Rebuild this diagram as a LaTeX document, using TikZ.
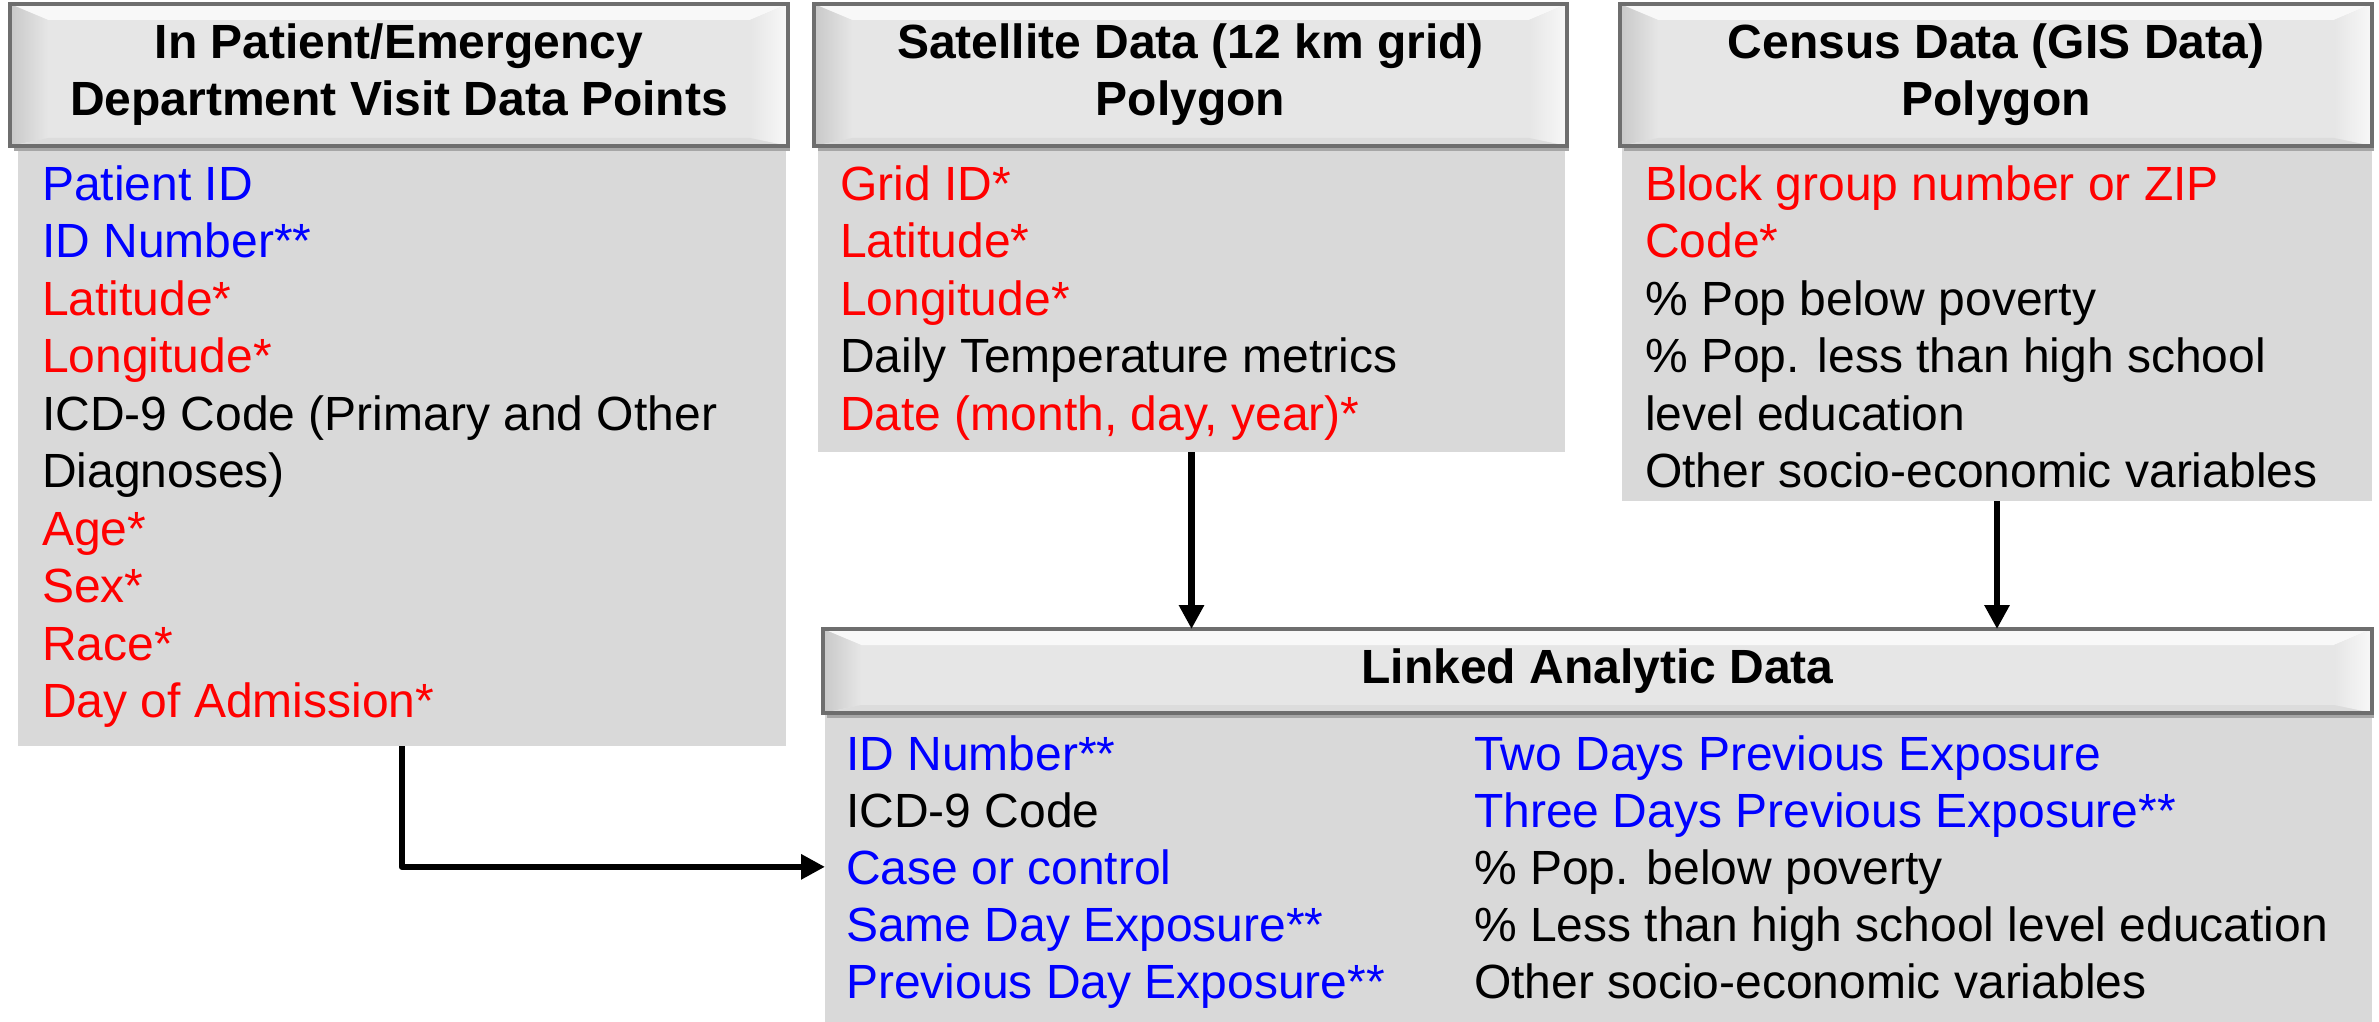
\documentclass[tikz,border=0pt]{standalone}
\usepackage{fontspec}
\setmainfont{Liberation Sans}
\usetikzlibrary{arrows.meta}
\definecolor{bodygray}{HTML}{D9D9D9}
\definecolor{hdrfill}{HTML}{E6E6E6}
\definecolor{hdrtop}{HTML}{F8F8F8}
\definecolor{hdrside}{HTML}{C8C8C8}
\definecolor{hdrbot}{HTML}{DCDCDC}
\definecolor{hdrborder}{HTML}{6E6E6E}
\definecolor{tblue}{HTML}{0000FF}
\definecolor{tred}{HTML}{FF0000}
\tikzset{
  hdr/.style={draw=hdrborder, line width=4pt, inner sep=0pt, outer sep=0pt, align=center,
              font=\fontsize{48}{57}\selectfont\bfseries},
  bodybox/.style={fill=bodygray, inner sep=0pt, outer sep=0pt},
  item/.style={anchor=base west, inner sep=0pt, font=\fontsize{48}{57.5}\selectfont},
  tb/.style={text=tblue}, tr/.style={text=tred}, tk/.style={text=black},
  conn/.style={line width=6.5pt, line join=round, -{Triangle[length=24pt,width=24pt]}},
}
\newcommand\hdrbox[6]{%
  \fill[black!35] (#2+4,#5) rectangle (#4+2,#5+5);
  \fill[hdrfill] (#2,#3) rectangle (#4,#5);
  \fill[hdrtop] (#2,#3) -- (#4,#3) -- (#4-38,#3+16) -- (#2+38,#3+16) -- cycle;
  \shade[left color=hdrside, right color=hdrfill] (#2,#3) -- (#2+38,#3+16) -- (#2+38,#5-8) -- (#2,#5) -- cycle;
  \shade[left color=hdrfill, right color=hdrtop] (#4,#3) -- (#4-38,#3+16) -- (#4-38,#5-8) -- (#4,#5) -- cycle;
  \fill[hdrbot] (#2,#5) -- (#2+38,#5-8) -- (#4-38,#5-8) -- (#4,#5) -- cycle;
  \node[hdr, minimum width={(#4-#2)*1pt}, minimum height={(#5-#3)*1pt}, anchor=north west] (#1) at (#2,#3) {#6};
}
\newcommand\bodyrect[5]{%
  \node[bodybox, minimum width={(#4-#2)*1pt}, minimum height={(#5-#3)*1pt}, anchor=north west] (#1) at (#2,#3) {};
}
\begin{document}
\begin{tikzpicture}[x=1pt,y=-1pt]
\useasboundingbox (0,0) rectangle (2379,1022);
% bodies
\bodyrect{b1}{18}{146}{786}{746}
\bodyrect{b2}{818}{146}{1565}{452}
\bodyrect{b3}{1622}{146}{2372}{501}
\bodyrect{lb}{825}{713}{2372}{1022}
% headers
\hdrbox{h1}{10}{4}{788}{146}{In Patient/Emergency\\Department Visit Data Points}
\hdrbox{h2}{814}{4}{1567}{146}{Satellite Data (12 km grid)\\Polygon}
\hdrbox{h3}{1620}{4}{2372}{146}{Census Data (GIS Data)\\Polygon}
\hdrbox{lh}{823}{629}{2372}{713}{Linked Analytic Data}
% box 1 items
\node[item,tb] (a1) at (42,200) {Patient ID};
\node[item,tb] (a2) at (42,257.5) {ID Number**};
\node[item,tr] (a3) at (42,315) {Latitude*};
\node[item,tr] (a4) at (42,372.5) {Longitude*};
\node[item,tk] (a5) at (42,430) {ICD-9 Code (Primary and Other};
\node[item,tk] (a6) at (42,487.5) {Diagnoses)};
\node[item,tr] (a7) at (42,545) {Age*};
\node[item,tr] (a8) at (42,602.5) {Sex*};
\node[item,tr] (a9) at (42,660) {Race*};
\node[item,tr] (a10) at (42,717.5) {Day of Admission*};
% box 2 items
\node[item,tr] (s1) at (840,200) {Grid ID*};
\node[item,tr] (s2) at (840,257.5) {Latitude*};
\node[item,tr] (s3) at (840,315) {Longitude*};
\node[item,tk] (s4) at (840,372.5) {Daily Temperature metrics};
\node[item,tr] (s5) at (840,430) {Date (month, day, year)*};
% box 3 items
\node[item,tr] (c1) at (1645,200) {Block group number or ZIP};
\node[item,tr] (c2) at (1645,257.5) {Code*};
\node[item,tk] (c3) at (1645,315) {\% Pop below poverty};
\node[item,tk] (c4) at (1645,372.5) {\% Pop. less than high school};
\node[item,tk] (c5) at (1645,430) {level education};
\node[item,tk] (c6) at (1645,487.5) {Other socio-economic variables};
% linked items
\node[item,tb] (l1) at (846,770) {ID Number**};
\node[item,tk] (l2) at (846,827) {ICD-9 Code};
\node[item,tb] (l3) at (846,884) {Case or control};
\node[item,tb] (l4) at (846,941) {Same Day Exposure**};
\node[item,tb] (l5) at (846,998) {Previous Day Exposure**};
\node[item,tb] (r1) at (1474,770) {Two Days Previous Exposure};
\node[item,tb] (r2) at (1474,827) {Three Days Previous Exposure**};
\node[item,tk] (r3) at (1474,884) {\% Pop. below poverty};
\node[item,tk] (r4) at (1474,941) {\% Less than high school level education};
\node[item,tk] (r5) at (1474,998) {Other socio-economic variables};
% connectors
\draw[conn] (b2.south) -- (b2.south |- lh.north);
\draw[conn] (b3.south) -- (b3.south |- lh.north);
\draw[conn] (b1.south) |- (lb.west |- l3.west);
\end{tikzpicture}
\end{document}
